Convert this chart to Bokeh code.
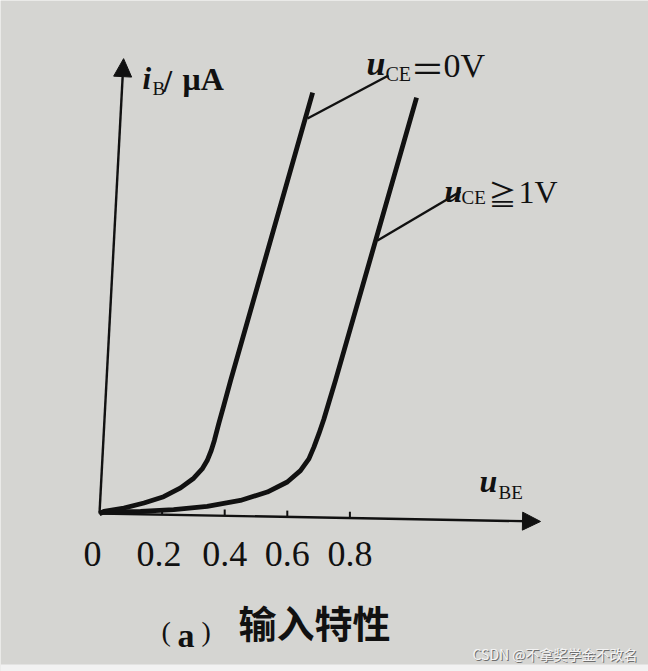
from bokeh.plotting import figure
from bokeh.models import Label, Arrow, NormalHead, Range1d, ColumnDataSource, BoxAnnotation
from bokeh.core.properties import value
from bokeh.embed import file_html
from bokeh.resources import INLINE

# ---- data (u_BE in V, i_B in arbitrary μA units) ----
u_be_0v = [0.0, 0.014, 0.078, 0.142, 0.205, 0.259, 0.301, 0.328, 0.344, 0.357,
           0.367, 0.381, 0.397, 0.419, 0.681]
i_b_0v = [0.0, 0.5, 1.3, 2.5, 4.0, 6.1, 8.4, 10.6, 12.6, 15.0,
          17.4, 21.4, 25.7, 31.7, 100.2]

u_be_1v = [0.0, 0.014, 0.131, 0.237, 0.344, 0.450, 0.536, 0.600, 0.642, 0.669,
           0.685, 0.701, 0.717, 0.733, 0.754, 1.013]
i_b_1v = [0.0, 0.3, 0.5, 0.9, 1.7, 3.1, 5.1, 7.5, 10.2, 13.0,
          15.8, 19.0, 22.5, 26.5, 31.7, 99.0]

tick_values = [0.2, 0.4, 0.6, 0.8]
tick_labels = ["0.2", "0.4", "0.6", "0.8"]
origin_label = "0"

x_axis_end = (1.409, -1.9)    # photographed axis is slightly tilted
y_axis_end = (0.077, 108.3)

PAPER = "#d5d5d2"
INK = "#111111"
SERIF = "Liberation Serif"
CJK = "Noto Sans CJK SC"


def X(px):
    return (px - 99) / 313.0


def Y(py):
    return (513 - py) / 4.2


p = figure(width=648, height=671,
           x_range=Range1d(X(0), X(648)), y_range=Range1d(Y(671), Y(0)),
           output_backend="svg", toolbar_location=None,
           x_axis_location=None, y_axis_location=None,
           min_border=0, background_fill_color=PAPER, border_fill_color=PAPER,
           outline_line_color=None)
p.grid.visible = False

# light border strip at the bottom of the photo
p.add_layout(BoxAnnotation(bottom=Y(671), top=Y(664), fill_color="#f2f2f2",
                           fill_alpha=1.0, line_color=None))

# axes with arrow heads
p.add_layout(Arrow(x_start=0, y_start=0, x_end=x_axis_end[0], y_end=x_axis_end[1],
                   line_width=2.4, line_color=INK,
                   end=NormalHead(size=18, fill_color=INK, line_color=INK)))
p.add_layout(Arrow(x_start=0, y_start=0, x_end=y_axis_end[0], y_end=y_axis_end[1],
                   line_width=2.4, line_color=INK,
                   end=NormalHead(size=18, fill_color=INK, line_color=INK)))

# ticks on the (tilted) x axis
slope = x_axis_end[1] / x_axis_end[0]
tick_base = [slope * t for t in tick_values]
tick_top = [b + 1.5 for b in tick_base]
p.segment(x0=tick_values, y0=tick_base, x1=tick_values, y1=tick_top,
          line_width=2, line_color=INK)

lab_src = ColumnDataSource(dict(x=[0.0] + tick_values,
                                y=[Y(553)] * (len(tick_values) + 1),
                                t=[origin_label] + tick_labels,
                                dx=[-7, -3, 0, 0, 0]))
p.text(x="x", y="y", text="t", x_offset="dx", source=lab_src, text_font_size="36px",
       text_align="center", text_baseline="alphabetic", text_color=INK,
       text_font=value(SERIF))

# characteristic curves
p.line(u_be_0v, i_b_0v, line_width=4.8, line_color=INK, line_join="round")
p.line(u_be_1v, i_b_1v, line_width=4.8, line_color=INK, line_join="round")

# leader lines
p.segment(x0=[X(307), X(377)], y0=[Y(118), Y(240)],
          x1=[X(388), X(460)], y1=[Y(75), Y(191)],
          line_width=2.4, line_color=INK)


def lab(px, py, text, size, font=SERIF, style="normal", align="left",
        baseline="alphabetic", color=INK):
    p.add_layout(Label(x=X(px), y=Y(py), text=text, text_font=font,
                       text_font_size=f"{size}px", text_font_style=style,
                       text_align=align, text_baseline=baseline,
                       text_color=color))


# i_B / μA
lab(142, 78, "i", 31, style="bold italic")
lab(152, 88, "B", 19)
lab(163, 81, "/", 31, style="bold")
lab(182, 78, "μA", 32, style="bold")

# u_CE = 0V
lab(366, 63, "u", 34, style="bold italic")
lab(385, 73, "CE", 20)
lab(410, 67, "＝", 34, font=CJK)
lab(443, 65, "0V", 34)

# u_CE ≧ 1V
lab(444, 190, "u", 32, style="bold italic")
lab(461, 197, "CE", 19)
lab(488, 193, "≧", 28, font=CJK)
lab(518, 191, "1V", 32)

# u_BE
lab(479, 480, "u", 32, style="bold italic")
lab(498, 492, "BE", 19)

# caption
lab(161, 631, "(", 28)
lab(177, 635, "a", 34, style="bold")
lab(201, 631, ")", 28)
lab(238, 621, "输入特性", 38, font=CJK, style="bold", baseline="middle")

# watermark
lab(473, 654, "CSDN @不拿奖学金不改名", 14, font=CJK, baseline="middle", color="#6e6e6e")
lab(472, 653, "CSDN @不拿奖学金不改名", 14, font=CJK, baseline="middle", color="#f4f4f4")

open("out.html", "w").write(file_html(p, INLINE))
